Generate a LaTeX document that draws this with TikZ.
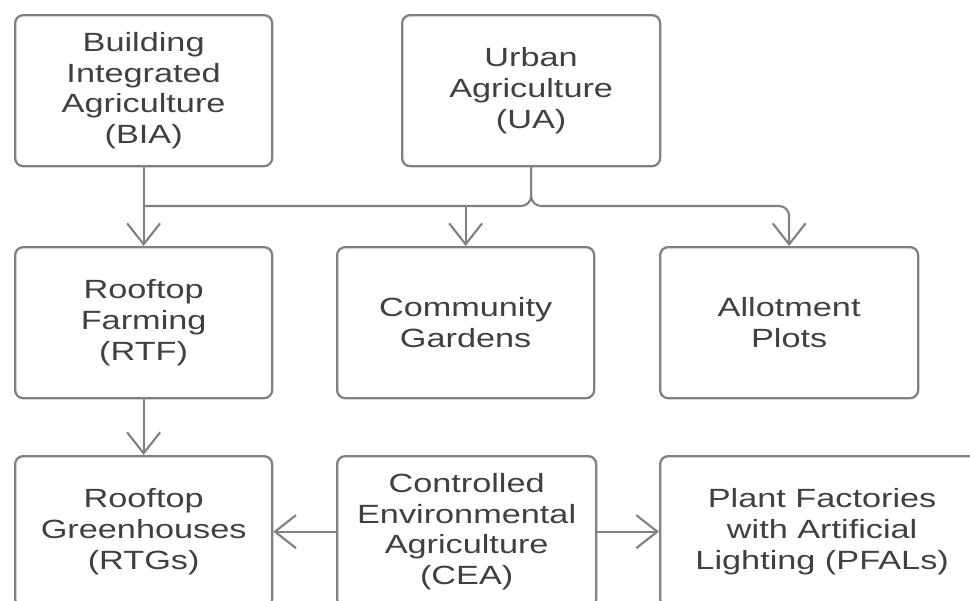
\documentclass[tikz,border=0pt]{standalone}
\usepackage{fontspec}
\setmainfont[FakeStretch=1.3]{Liberation Sans}
\usetikzlibrary{arrows.meta}
\definecolor{linegray}{HTML}{808080}
\definecolor{textgray}{HTML}{404040}

\begin{document}
\begin{tikzpicture}
    \tikzstyle{arrow} = [-{Straight Barb[length=0.42cm,width=0.66cm]},
        draw=linegray, line width=1.2pt]
    \tikzstyle{line} = [draw=linegray, line width=1.2pt]
    \tikzstyle{rec} = [rectangle, rounded corners=0.16cm, draw=linegray,
        line width=1.3pt, align=center, text=textgray,
        font=\fontsize{15}{17.6}\selectfont, inner sep=0pt,
        minimum width=5.14cm, minimum height=3.02cm, fill=white]

    \useasboundingbox (0,0) rectangle (19.4,-12);
    \clip (0,0) rectangle (19.4,-12);

    \node(bia) [rec]
        at (0.28,-0.28) [anchor=north west]
        {Building\\ Integrated\\ Agriculture\\ (BIA)};
    \node(ua) [rec, minimum width=5.16cm]
        at (8.02,-0.28) [anchor=north west]
        {Urban\\ Agriculture\\ (UA)};
    \node(rtf) [rec]
        at (0.28,-4.92) [anchor=north west]
        {Rooftop\\ Farming\\ (RTF)};
    \node(cg) [rec]
        at (6.72,-4.92) [anchor=north west]
        {Community\\ Gardens};
    \node(allot) [rec, minimum width=5.16cm]
        at (13.18,-4.92) [anchor=north west]
        {Allotment\\ Plots};
    \node(rtg) [rec]
        at (0.28,-9.10) [anchor=north west]
        {Rooftop\\ Greenhouses\\ (RTGs)};
    \node(cea) [rec, minimum width=5.18cm]
        at (6.72,-9.10) [anchor=north west]
        {Controlled\\ Environmental\\ Agriculture\\ (CEA)};
    \node(pfal) [rec, minimum width=6.48cm]
        at (13.18,-9.10) [anchor=north west]
        {Plant Factories\\ with Artificial\\ Lighting (PFALs)};

    \coordinate (bus) at (0,-4.12);

    \draw[arrow] (bia) -- (rtf);
    \draw[line, rounded corners=0.2cm] (ua.south) |- (rtf.north |- bus);
    \draw[arrow, rounded corners=0.2cm] (ua.south) |- (allot.north |- bus)
        -- (allot.north);
    \draw[arrow] (cg.north |- bus) -- (cg);
    \draw[arrow] (rtf) -- (rtg);
    \draw[arrow] (cea) -- (rtg);
    \draw[arrow] (cea) -- (pfal);
\end{tikzpicture}
\end{document}
